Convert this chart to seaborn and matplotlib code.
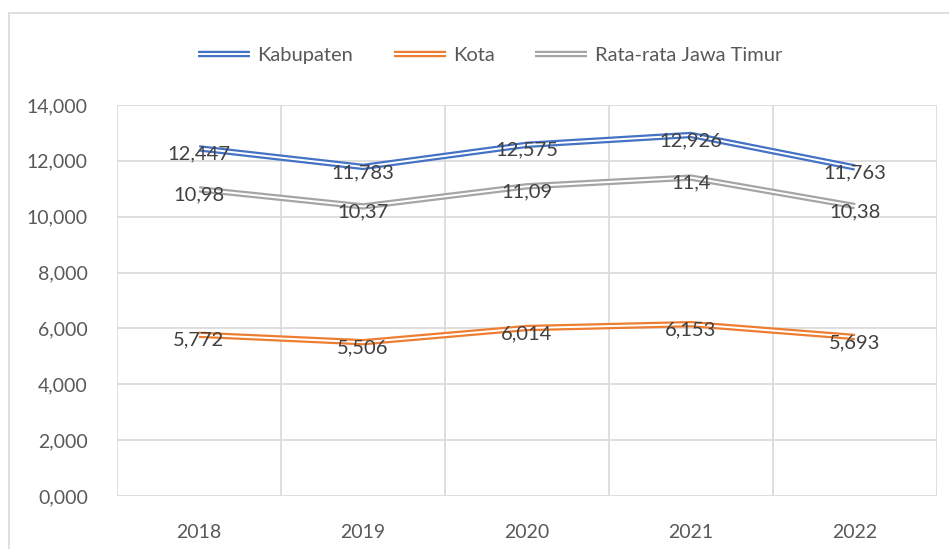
import pandas as pd
import matplotlib
matplotlib.use("Agg")
import matplotlib.pyplot as plt
import matplotlib.patheffects as pe
from matplotlib.lines import Line2D
from matplotlib.patches import Rectangle
import seaborn as sns

# ---------- Data ----------
years = ["2018", "2019", "2020", "2021", "2022"]
kabupaten = [12.447, 11.783, 12.575, 12.926, 11.763]
kota = [5.772, 5.506, 6.014, 6.153, 5.693]
rata_jatim = [10.98, 10.37, 11.09, 11.4, 10.38]
series_names = ["Kabupaten", "Kota", "Rata-rata Jawa Timur"]
colors = ["#4472C4", "#ED7D31", "#A5A5A5"]
y_ticks = [0, 2, 4, 6, 8, 10, 12, 14]

rows = []
for name, vals in zip(series_names, [kabupaten, kota, rata_jatim]):
    for i, v in enumerate(vals):
        rows.append({"pos": i, "year": years[i], "series": name, "value": v})
df = pd.DataFrame(rows)

# ---------- Plot ----------
sns.set_theme(style="white")
plt.rcParams["font.family"] = ["Lato", "DejaVu Sans"]

fig = plt.figure(figsize=(9.49, 5.49), dpi=100)
W, H = 949, 549
ax = fig.add_axes([117 / W, 53 / H, (937 - 117) / W, (496 - 105) / H])

# chart frame
fig.patches.append(Rectangle((9 / W, -0.1), 1.2, 1.1 - 13 / H, transform=fig.transFigure,
                             fill=False, edgecolor="#D9D9D9", lw=1.2, zorder=0))

palette = dict(zip(series_names, colors))
sns.lineplot(data=df, x="pos", y="value", hue="series", palette=palette,
             lw=4.6, legend=False, ax=ax, zorder=3, solid_capstyle="butt")
sns.lineplot(data=df, x="pos", y="value", hue="series",
             palette={n: "white" for n in series_names},
             lw=1.4, legend=False, ax=ax, zorder=4, solid_capstyle="butt")

# data labels
for name, vals in zip(series_names, [kabupaten, kota, rata_jatim]):
    for i, v in enumerate(vals):
        ax.annotate(str(v).replace(".", ","), (i, v), xytext=(0, -4),
                    textcoords="offset points", ha="center", va="center",
                    fontsize=14.5, color="#404040", zorder=5)

ax.set_xlim(-0.5, 4.5)
ax.set_ylim(0, 14)
ax.set_yticks(y_ticks)
ax.set_yticklabels([f"{t:.3f}".replace(".", ",") for t in y_ticks])
ax.set_xticks(range(len(years)))
ax.set_xticklabels(years)
ax.grid(False)
for t in y_ticks:
    ax.axhline(t, color="#D9D9D9", lw=1.2, zorder=1)
for x in [i - 0.5 for i in range(len(years) + 1)]:
    ax.axvline(x, color="#D9D9D9", lw=1.2, zorder=1)
for s in ax.spines.values():
    s.set_visible(False)
ax.tick_params(axis="both", which="both", length=0, labelsize=14, labelcolor="#595959")
ax.tick_params(axis="y", pad=21)
ax.tick_params(axis="x", pad=20)
ax.set_xlabel("")
ax.set_ylabel("")

# legend
handles = [Line2D([], [], color="white", lw=1.4, solid_capstyle="butt",
                  path_effects=[pe.Stroke(linewidth=4.6, foreground=c, capstyle="butt"), pe.Normal()])
           for c in colors]
fig.legend(handles, series_names, loc="center", bbox_to_anchor=(490 / W, 1 - 55 / H),
           ncol=3, frameon=False, fontsize=14.5, handlelength=2.6, handletextpad=0.35,
           columnspacing=2.0, labelcolor="#595959")

fig.savefig("out.png", dpi=100)
